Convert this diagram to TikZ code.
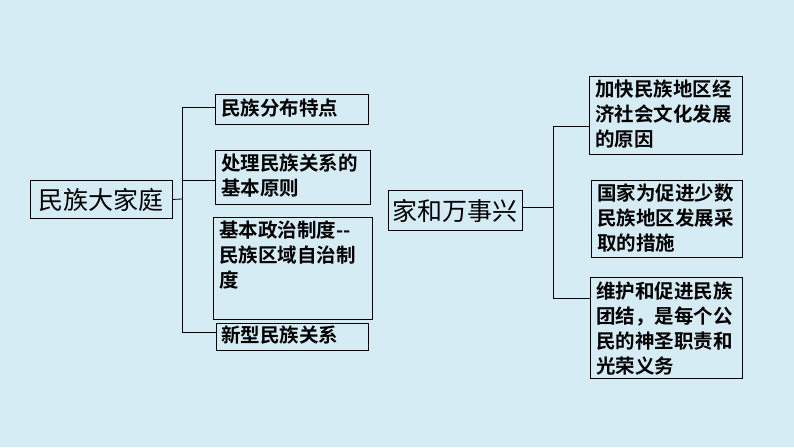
\documentclass[tikz,border=0pt]{standalone}
\usepackage{fontspec}
\newfontfamily\cjk{Noto Sans CJK SC}[BoldFont={* Bold}]
\definecolor{bgblue}{RGB}{214,236,245}
\tikzset{
  box/.style={draw, line width=0.9pt, inner sep=0pt, anchor=north west},
  txt/.style={anchor=north west, align=left, inner sep=0pt, font=\cjk\bfseries\fontsize{19.5}{25}\selectfont},
  mainbox/.style={draw, line width=0.9pt, font=\cjk\fontsize{25}{28}\selectfont, inner sep=0pt, anchor=north west},
  branch/.style={line width=0.8pt}
}
\begin{document}
\begin{tikzpicture}[x=1pt, y=-1pt]
  % the frame
  \fill[bgblue] (0,0) rectangle (794,447);
  \useasboundingbox (0,0) rectangle (794,447);
  % left tree
  \node[mainbox, minimum width=142, minimum height=38] (fam) at (30,180) {民族大家庭};
  \node[box, minimum width=153, minimum height=30] (b1) at (215,94) {};
  \node[box, minimum width=155, minimum height=54] (b2) at (215,150) {};
  \node[box, minimum width=159, minimum height=102] (b3) at (213,217) {};
  \node[box, minimum width=152, minimum height=27] (b4) at (216,323) {};
  \node[txt] at (221,99) {民族分布特点};
  \node[txt] at (221,154) {处理民族关系的\\基本原则};
  \node[txt] at (219,221) {基本政治制度--\\民族区域自治制\\度};
  \node[txt] at (221,326) {新型民族关系};
  \coordinate (ltop) at (182,107);
  \coordinate (lbot) at (182,332);
  \draw[branch] (ltop) -- (lbot);
  \draw[branch] (ltop) -- (b1.west |- ltop);
  \draw[branch] (182,180) -- (b2.west |- 182,180);
  \draw[branch] (lbot) -- (b4.west |- lbot);
  \draw[branch] (fam.east) -- (182,199);
  % right tree
  \node[mainbox, minimum width=134, minimum height=40] (home) at (388,190) {家和万事兴};
  \node[box, minimum width=153, minimum height=78] (c1) at (589,76) {};
  \node[box, minimum width=151, minimum height=77] (c2) at (591,180) {};
  \node[box, minimum width=152, minimum height=101] (c3) at (590,277) {};
  \node[txt] at (595,80) {加快民族地区经\\济社会文化发展\\的原因};
  \node[txt] at (597,184) {国家为促进少数\\民族地区发展采\\取的措施};
  \node[txt] at (596,282) {维护和促进民族\\团结，是每个公\\民的神圣职责和\\光荣义务};
  \coordinate (rtop) at (553,126);
  \coordinate (rbot) at (553,298);
  \draw[branch] (rtop) -- (rbot);
  \draw[branch] (rtop) -- (c1.west |- rtop);
  \draw[branch] (rbot) -- (c3.west |- rbot);
  \draw[branch] (home.east |- 553,207) -- (553,207);
\end{tikzpicture}
\end{document}
